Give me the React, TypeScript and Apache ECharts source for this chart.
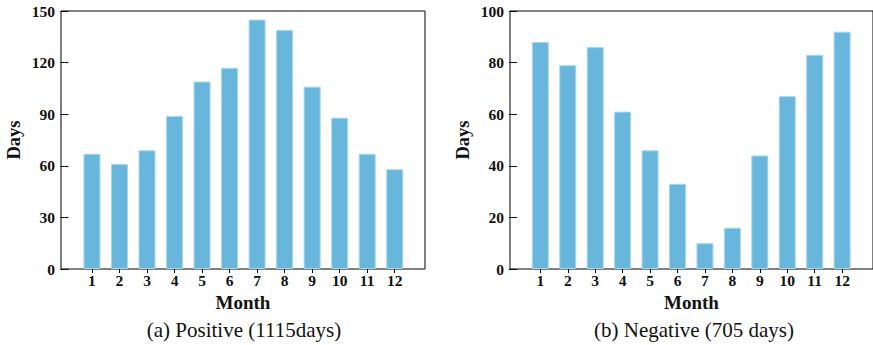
import React, { useEffect, useRef } from "react";
import * as echarts from "echarts";

const months = [1, 2, 3, 4, 5, 6, 7, 8, 9, 10, 11, 12];
const positiveDays = [67, 61, 69, 89, 109, 117, 145, 139, 106, 88, 67, 58];
const negativeDays = [88, 79, 86, 61, 46, 33, 10, 16, 44, 67, 83, 92];
const captionA = "(a) Positive (1115days)";
const captionB = "(b) Negative (705 days)";

const FONT = "'Liberation Serif', 'Times New Roman', serif";
const TXT = "#111";

function xAxes(gridIndex: number, min: number, max: number) {
  const base = {
    gridIndex,
    type: "value" as const,
    min,
    max,
    splitLine: { show: false },
    axisLine: { show: false },
  };
  return [
    {
      ...base,
      position: "bottom" as const,
      name: "Month",
      nameLocation: "middle" as const,
      nameGap: 23,
      nameTextStyle: { fontFamily: FONT, fontWeight: "bold", fontSize: 19, color: TXT },
      axisTick: { show: true, inside: true, length: 4, customValues: months, lineStyle: { color: "#000" } },
      axisLabel: {
        customValues: months,
        fontFamily: FONT,
        fontWeight: "bold",
        fontSize: 15.5,
        color: TXT,
        margin: 3,
      },
    },
    {
      ...base,
      position: "top" as const,
      axisTick: { show: true, inside: true, length: 4, customValues: months, lineStyle: { color: "#000" } },
      axisLabel: { show: false },
    },
  ];
}

function yAxes(gridIndex: number, max: number, interval: number) {
  const base = {
    gridIndex,
    type: "value" as const,
    min: 0,
    max,
    interval,
    splitLine: { show: false },
    axisLine: { show: false },
    axisTick: { show: true, inside: true, length: 4, lineStyle: { color: "#000" } },
  };
  return [
    {
      ...base,
      position: "left" as const,
      name: "Days",
      nameLocation: "middle" as const,
      nameGap: 38,
      nameTextStyle: { fontFamily: FONT, fontWeight: "bold", fontSize: 18.5, color: TXT },
      axisLabel: { fontFamily: FONT, fontWeight: "bold", fontSize: 15.5, color: TXT, margin: 6 },
    },
    {
      ...base,
      position: "right" as const,
      axisLabel: { show: false },
    },
  ];
}

export default function App() {
  const ref = useRef<HTMLDivElement>(null);
  useEffect(() => {
    if (!ref.current) return;
    const chart = echarts.init(ref.current, null, { renderer: "svg" });
    const barStyle = { color: "#68b6dc", borderColor: "#a8d6ee", borderWidth: 1 };
    chart.setOption({
      animation: false,
      backgroundColor: "#fff",
      grid: [
        { left: 61, top: 11, width: 364, height: 258, show: true, borderColor: "#000", borderWidth: 1, backgroundColor: "transparent" },
        { left: 510, top: 11, width: 364, height: 258, show: true, borderColor: "#000", borderWidth: 1, backgroundColor: "transparent" },
      ],
      xAxis: [...xAxes(0, -0.125, 13.1), ...xAxes(1, -0.105, 13.125)],
      yAxis: [...yAxes(0, 150, 30), ...yAxes(1, 100, 20)],
      series: [
        {
          type: "bar",
          xAxisIndex: 0,
          yAxisIndex: 0,
          barWidth: 17,
          itemStyle: barStyle,
          data: months.map((m, i) => [m, positiveDays[i]]),
        },
        {
          type: "bar",
          xAxisIndex: 2,
          yAxisIndex: 2,
          barWidth: 17,
          itemStyle: barStyle,
          data: months.map((m, i) => [m, negativeDays[i]]),
        },
      ],
      graphic: [
        {
          type: "text",
          x: 244,
          y: 330,
          style: { text: captionA, fontFamily: FONT, fontSize: 21, fill: TXT, align: "center", verticalAlign: "middle" },
        },
        {
          type: "text",
          x: 694,
          y: 330,
          style: { text: captionB, fontFamily: FONT, fontSize: 21, fill: TXT, align: "center", verticalAlign: "middle" },
        },
      ],
    });
    return () => chart.dispose();
  }, []);
  return (
    <div
      ref={ref}
      style={{ position: "fixed", left: 0, top: 0, width: 873, height: 345, background: "#fff" }}
    />
  );
}
